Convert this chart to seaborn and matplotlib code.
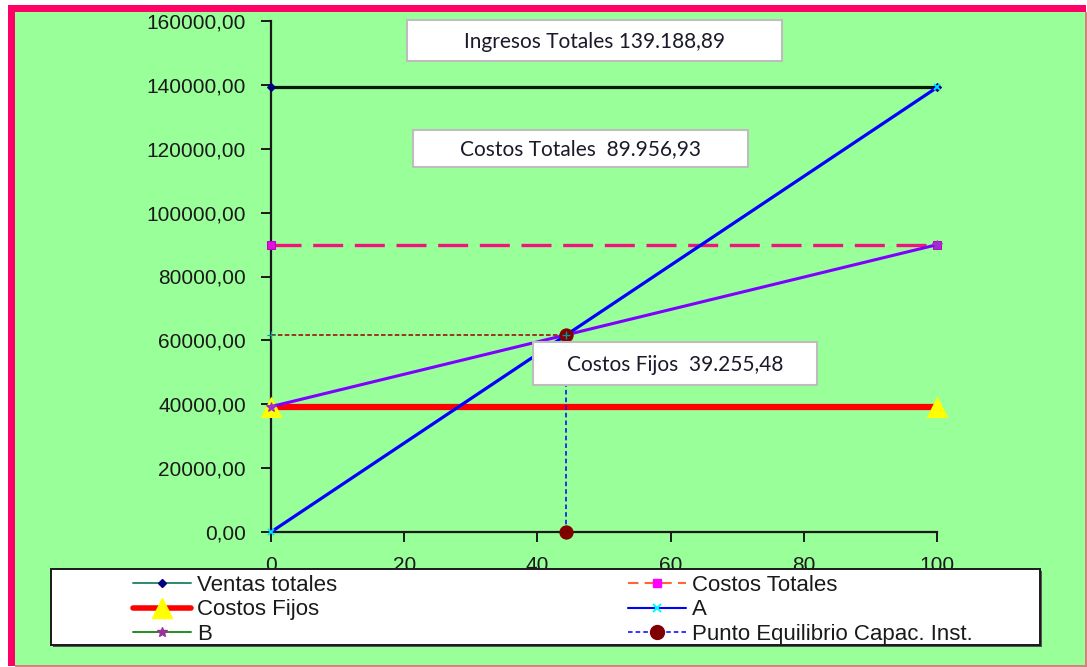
import matplotlib
matplotlib.use("Agg")
import matplotlib.pyplot as plt
from matplotlib.lines import Line2D
from matplotlib.patches import Rectangle
from matplotlib.ticker import FuncFormatter
import numpy as np
import pandas as pd
import seaborn as sns

# ---------------- data ----------------
capacidad = [0, 100]
ventas_totales = [139188.89, 139188.89]
costos_totales = [89956.93, 89956.93]
costos_fijos = [39255.48, 39255.48]
serie_a = [0.0, 139188.89]
serie_b = [39255.48, 89956.93]
equilibrio_x = [44.36, 44.36]
equilibrio_y = [0.0, 61750.0]
equilibrio_h_x = [0.0, 44.36]
equilibrio_h_y = [61750.0, 61750.0]

x_ticks = [0, 20, 40, 60, 80, 100]
y_ticks = [0, 20000, 40000, 60000, 80000, 100000, 120000, 140000, 160000]

legend_col1 = ["Ventas totales", "Costos Fijos", "B"]
legend_col2 = ["Costos Totales", "A", "Punto Equilibrio Capac. Inst."]

box_labels = ["Ingresos Totales ", "Costos Totales  ", "Costos Fijos  "]
box_values = [139188.89, 89956.93, 39255.48]

# ---------------- style ----------------
sns.set_style("ticks")
plt.rcParams["font.family"] = ["Liberation Sans", "DejaVu Sans"]

W, H = 1087, 667
fig = plt.figure(figsize=(W / 100, H / 100), dpi=100)
fig.patch.set_facecolor("white")


def fx(x):
    return x / W


def fy(y):
    return 1 - y / H


def frect(x0, y0, x1, y1, **kw):
    r = Rectangle((fx(x0), fy(y1)), fx(x1) - fx(x0), fy(y0) - fy(y1),
                  transform=fig.transFigure, **kw)
    fig.patches.append(r)
    return r


# background frame
frect(15, 12, 1086, 666, facecolor="#99FF99", edgecolor="none", zorder=-3)
frect(8, 5, 1086, 12, facecolor="#FF0066", edgecolor="none", zorder=-2)
frect(8, 5, 15, 666, facecolor="#FF0066", edgecolor="none", zorder=-2)
frect(1085, 12, 1086.5, 666, facecolor="#D98080", edgecolor="none", zorder=-2)
frect(15, 665, 1086.5, 666.5, facecolor="#D98080", edgecolor="none", zorder=-2)

ax = fig.add_axes([fx(271), fy(532), fx(937) - fx(271), fy(21) - fy(532)])
ax.set_facecolor("none")
ax.set_zorder(1)

kw = dict(ax=ax, legend=False, clip_on=False, estimator=None, errorbar=None,
          sort=False)

sns.lineplot(x=capacidad, y=ventas_totales, color="#0A1A0A", lw=2.3,
             marker="D", markersize=4, markerfacecolor="#000080",
             markeredgecolor="#000080", zorder=3, **kw)
sns.lineplot(x=capacidad, y=costos_totales, color="#F0157A", lw=2.4,
             linestyle=(0, (9, 3.5)), marker="s", markersize=5.5,
             markerfacecolor="#E010E0", markeredgecolor="#C000C0", zorder=3, **kw)
sns.lineplot(x=capacidad, y=costos_fijos, color="#FF0000", lw=4.5,
             marker="^", markersize=15, markerfacecolor="#FFFF00",
             markeredgecolor="#FFFF00", zorder=4, **kw)
sns.lineplot(x=capacidad, y=serie_a, color="#0000FF", lw=2.3,
             marker="x", markersize=5, markeredgecolor="#00E5FF",
             markeredgewidth=1.3, zorder=5, **kw)
sns.lineplot(x=capacidad, y=serie_b, color="#7F00FF", lw=2.2,
             marker="*", markersize=7, markerfacecolor="#9933CC",
             markeredgecolor="#9933CC", zorder=6, **kw)
sns.lineplot(x=equilibrio_h_x, y=equilibrio_h_y, color="#990000", lw=1.1,
             linestyle=(0, (3, 1.5)), marker="+", markersize=6,
             markeredgecolor="#009999", zorder=5, **kw)
sns.lineplot(x=equilibrio_x, y=equilibrio_y, color="#0000FF", lw=1.1,
             linestyle=(0, (3, 2)), marker="o", markersize=9.5,
             markerfacecolor="#800000", markeredgecolor="#800000", zorder=7, **kw)
ax.plot([equilibrio_x[1]], [equilibrio_y[1]], marker="+", ms=6,
        mec="#009999", ls="none", zorder=8, clip_on=False)

ax.set_xlim(0, 100)
ax.set_ylim(0, 160000)
ax.set_xticks(x_ticks)
ax.set_yticks(y_ticks)
ax.yaxis.set_major_formatter(FuncFormatter(lambda v, p: f"{v:.2f}".replace(".", ",")))
ax.set_xlabel("")
ax.set_ylabel("")
for s in ["top", "right"]:
    ax.spines[s].set_visible(False)
for s in ["left", "bottom"]:
    ax.spines[s].set_color("#1A1A1A")
    ax.spines[s].set_linewidth(1.6)
    ax.spines[s].set_zorder(2)
ax.tick_params(axis="both", direction="out", length=7, width=1.4, color="#1A1A1A",
               labelsize=15, labelcolor="#1A1A1A")
ax.tick_params(axis="y", pad=11)
ax.tick_params(axis="x", pad=10)

# ---------------- text boxes ----------------
def fmt_es(v):
    return f"{v:,.2f}".replace(",", "X").replace(".", ",").replace("X", ".")

boxes = [(407, 20, 782, 61), (413, 130, 748, 167), (533, 342, 817, 385)]
for (x0, y0, x1, y1), lab, val in zip(boxes, box_labels, box_values):
    frect(x0, y0, x1, y1, facecolor="white", edgecolor="#BDBDBD", lw=1.5, zorder=10)
    fig.text(fx((x0 + x1) / 2), fy((y0 + y1) / 2 + 1), lab + fmt_es(val),
             ha="center", va="center", fontsize=15, color="#1A1A2A",
             family=["Lato", "DejaVu Sans"], zorder=11)

# ---------------- legend ----------------
frect(53, 571, 1042, 647, facecolor="#555555", edgecolor="none", zorder=11)
frect(51, 569, 1040, 645, facecolor="white", edgecolor="#1A1A1A", lw=1.4, zorder=12)

h1 = [
    Line2D([], [], color="#2E8B6E", lw=1.4, marker="D", ms=4.5,
           mfc="#000080", mec="#000080"),
    Line2D([], [], color="#FF0000", lw=4, marker="^", ms=14,
           mfc="#FFFF00", mec="#FFFF00"),
    Line2D([], [], color="#228B22", lw=1.4, marker="*", ms=7,
           mfc="#993399", mec="#993399"),
]
h2 = [
    Line2D([], [], color="#FF6633", lw=1.5, ls=(0, (5, 3)), marker="s", ms=6,
           mfc="#FF00FF", mec="#FF00FF"),
    Line2D([], [], color="#0000FF", lw=1.5, marker="x", ms=6, mec="#00FFFF",
           mew=1.5),
    Line2D([], [], color="#0000FF", lw=1.1, ls=(0, (3, 2)), marker="o", ms=10,
           mfc="#800000", mec="#800000"),
]
common = dict(loc="upper left", frameon=False, fontsize=16, borderpad=0,
              borderaxespad=0, handlelength=2.6, handletextpad=0.3,
              labelspacing=0.15, labelcolor="#1A1A1A")
leg1 = fig.legend(h1, legend_col1, bbox_to_anchor=(fx(133), fy(575)), **common)
leg2 = fig.legend(h2, legend_col2, bbox_to_anchor=(fx(628), fy(575)), **common)
leg1.set_zorder(13)
leg2.set_zorder(13)

fig.savefig("out.png", dpi=100, facecolor=fig.get_facecolor())
